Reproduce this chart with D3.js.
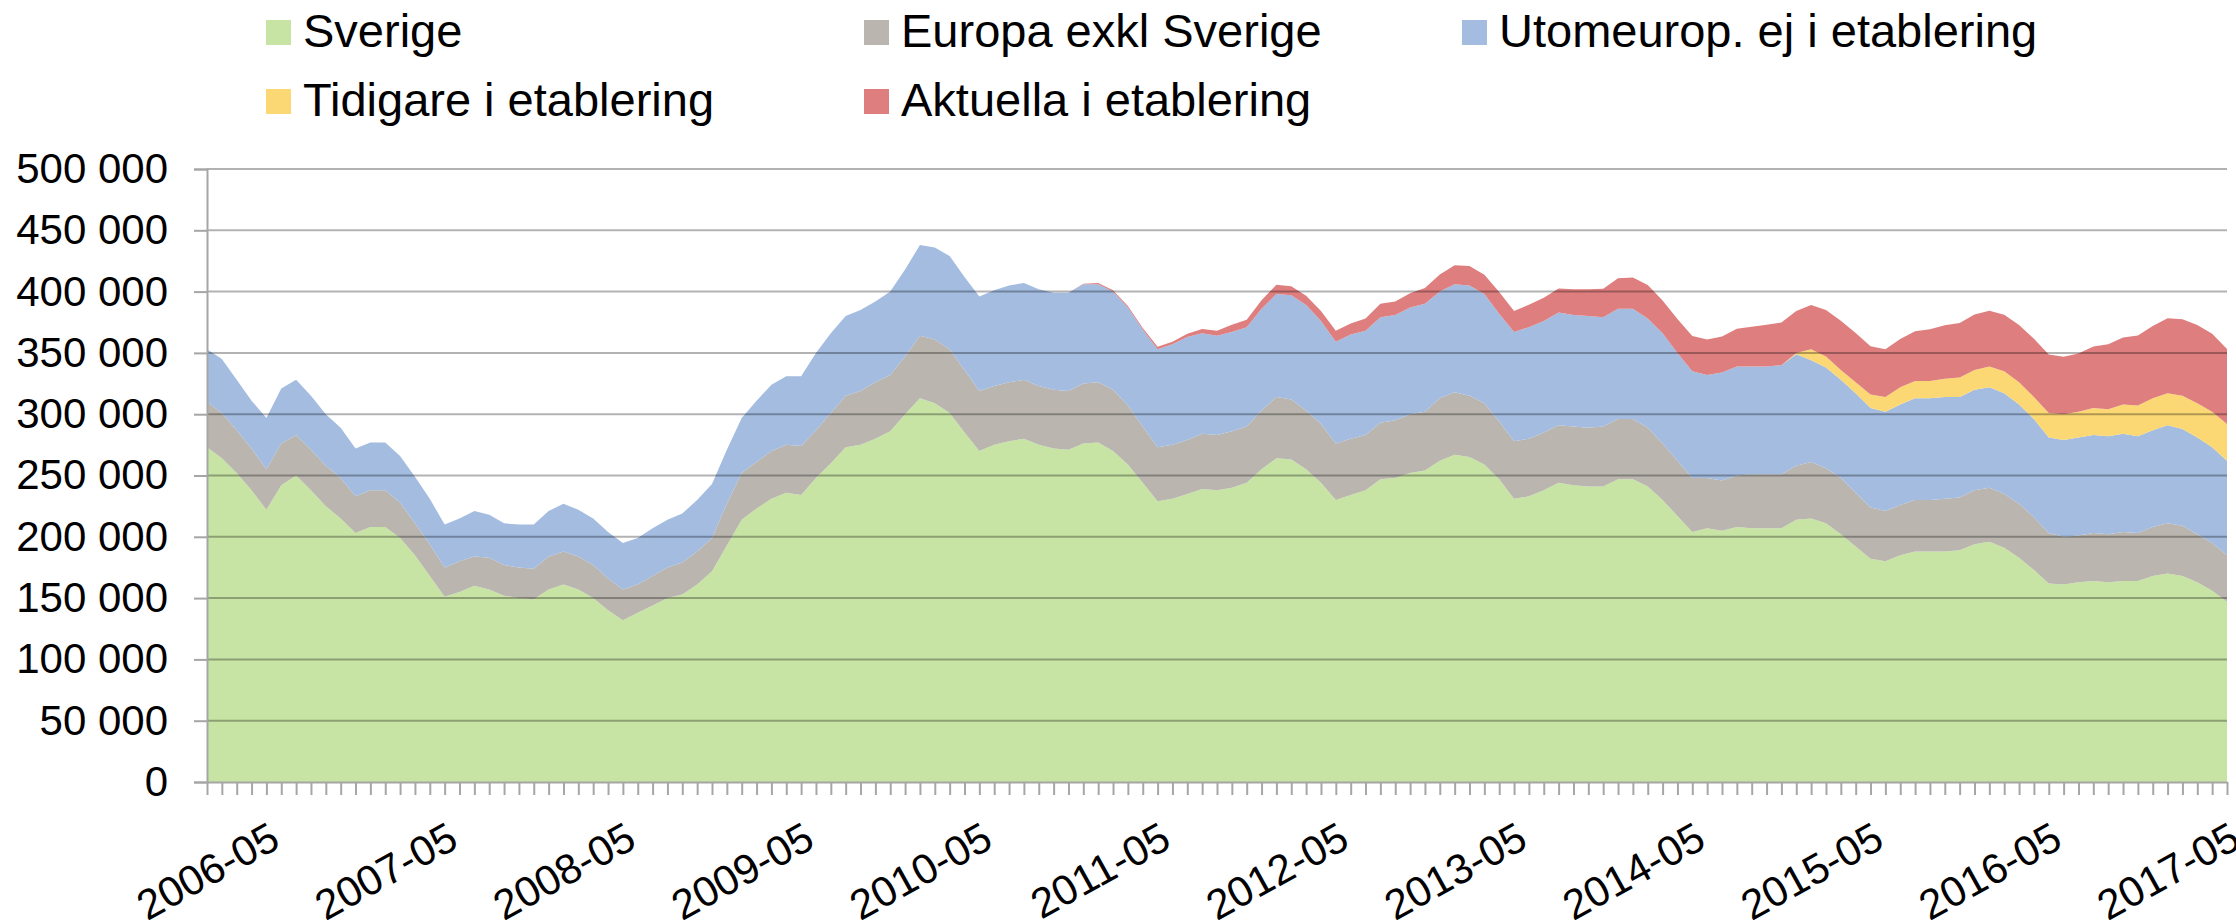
<!DOCTYPE html>
<html>
<head>
<meta charset="utf-8">
<script src="https://cdn.jsdelivr.net/npm/d3@7"></script>
<style>
  body { margin: 0; background: #fff; }
  text { font-family: "Liberation Sans", Arial, sans-serif; fill: #000; }
</style>
</head>
<body>
<div id="chart"></div>
<script>
// values in thousands of persons, monthly 2006-01 .. 2017-05
const sverige = [
  273,264,252,238,222,242,250,238,225,215,
  203,208,208,199,185,168,151,155,160,157,
  152,150,149,157,161,157,150,140,132,138,
  144,150,153,161,172,193,214,223,231,236,
  234,248,260,273,275,280,286,300,313,309,
  301,285,270,275,278,280,275,272,271,276,
  277,270,259,244,229,231,235,239,238,240,
  244,255,264,263,255,244,230,234,238,247,
  248,252,254,262,267,265,259,247,231,233,
  238,244,242,241,241,247,247,241,230,217,
  204,207,205,208,207,207,207,214,215,211,
  202,192,182,180,185,188,188,188,189,194,
  196,191,183,173,162,161,163,164,163,164,
  164,168,170,168,163,156,147
];
const europa = [
  37,37,35,34,33,34,33,33,33,33,
  30,30,30,29,26,26,24,25,24,26,
  25,25,25,27,27,27,27,26,25,23,
  24,25,26,27,27,34,38,38,39,39,
  40,39,41,42,44,46,46,47,51,52,
  52,51,49,48,48,48,48,48,48,49,
  49,50,48,46,44,44,44,45,45,46,
  46,48,50,49,48,48,46,46,45,46,
  47,48,48,51,51,50,50,47,47,47,
  47,47,48,48,49,49,49,48,46,45,
  44,41,41,42,44,44,44,44,46,45,
  46,44,42,41,41,42,42,43,43,44,
  44,44,44,43,41,39,38,39,39,40,
  39,40,41,41,39,39,38
];
const utomeurop = [
  43,44,41,39,42,45,45,44,42,41,
  39,39,39,38,38,37,35,35,37,35,
  34,35,36,37,39,38,38,38,38,38,
  39,39,40,42,44,44,45,50,54,56,
  57,63,65,65,66,66,68,71,74,75,
  76,76,77,78,79,79,79,79,80,81,
  80,80,80,79,80,82,84,82,81,81,
  81,83,84,85,86,84,83,85,85,86,
  86,87,88,87,88,90,89,88,89,91,
  91,92,91,91,89,90,90,89,90,88,
  87,84,88,89,88,88,89,91,83,82,
  80,81,81,81,82,83,83,83,82,82,
  82,82,81,80,78,79,80,80,80,80,
  79,79,80,79,79,78,77
];
const tidigare = [
  0,0,0,0,0,0,0,0,0,0, 0,0,0,0,0,0,0,0,0,0,
  0,0,0,0,0,0,0,0,0,0, 0,0,0,0,0,0,0,0,0,0,
  0,0,0,0,0,0,0,0,0,0, 0,0,0,0,0,0,0,0,0,0,
  0,0,0,0,0,0,0,0,0,0, 0,0,0,0,0,0,0,0,0,0,
  0,0,0,0,0,0,0,0,0,0, 0,0,0,0,0,0,0,0,0,0,
  0,0,0,0,0,0,0,1,9,9,
  8,9,11,12,14,14,14,15,16,16,
  17,18,18,18,20,21,21,22,22,24,
  25,26,26,27,28,29,30
];
const aktuella = [
  0,0,0,0,0,0,0,0,0,0, 0,0,0,0,0,0,0,0,0,0,
  0,0,0,0,0,0,0,0,0,0, 0,0,0,0,0,0,0,0,0,0,
  0,0,0,0,0,0,0,0,0,0, 0,0,0,0,0,0,0,0,0,0.5,
  1,1,1.3,1.4,2,2,2.7,3.5,4,6,
  6,7,7.6,7.4,7.6,8.2,9,9,10,11,
  11,11.6,13,14,15.5,15.8,15.8,17.7,17.2,18.2,
  19,19.6,21,22,23.4,24.8,25.6,27.4,26.7,27.7,
  28.8,29,29.3,30.7,32.4,34,34.8,34.2,36,38,
  40.3,40.2,39.4,38.9,39.4,40.7,42.2,43.5,44.3,45.4,
  45.3,46.2,46.7,47.6,47.6,46.8,47.5,50.3,53,54.6,
  57.1,59,61.2,62.5,63.8,63.6,61.2
];

const seriesNames = ["Sverige", "Europa exkl Sverige", "Utomeurop. ej i etablering",
                     "Tidigare i etablering", "Aktuella i etablering"];
const seriesColors = ["#C7E4A5", "#BAB6AF", "#A3BCE0", "#FCD874", "#DF7E7E"];
const seriesValues = [sverige, europa, utomeurop, tidigare, aktuella];

const months = d3.timeMonth.range(new Date(2006, 0, 1), new Date(2017, 5, 1))
  .map(d3.timeFormat("%Y-%m"));

const rows = months.map((m, i) => {
  const r = { month: m };
  seriesNames.forEach((s, k) => r[s] = seriesValues[k][i] * 1000);
  return r;
});

const W = 2236, H = 920;
const plotLeft = 207, plotRight = 2227, plotTop = 169, plotBottom = 782;

const svg = d3.select("#chart").append("svg")
  .attr("width", W)
  .attr("height", H);

const x = d3.scalePoint().domain(months).range([plotLeft, plotRight]);
const y = d3.scaleLinear().domain([0, 500000]).range([plotBottom, plotTop]);
const fmt = v => d3.format(",")(v).replace(/,/g, " ");

const stacked = d3.stack().keys(seriesNames)(rows);

const area = d3.area()
  .x(d => x(d.data.month))
  .y0(d => y(d[0]))
  .y1(d => y(d[1]));

svg.append("g")
  .selectAll("path")
  .data(stacked)
  .enter()
  .append("path")
    .attr("d", area)
    .style("fill", (d, i) => seriesColors[i]);

// gridlines show through the areas in the original
svg.append("g")
  .selectAll("line")
  .data(y.ticks(10).filter(v => v > 0))
  .enter()
  .append("line")
    .attr("x1", plotLeft)
    .attr("x2", plotRight)
    .attr("y1", d => y(d))
    .attr("y2", d => y(d))
    .style("stroke", "#000")
    .style("stroke-opacity", 0.3)
    .style("stroke-width", 2);

// y axis
const yAxis = svg.append("g")
  .attr("transform", `translate(${plotLeft},0)`)
  .call(d3.axisLeft(y).ticks(10).tickSize(13).tickPadding(26).tickFormat(fmt));
yAxis.selectAll("line").style("stroke", "#A6A6A6").style("stroke-width", 2);
yAxis.select(".domain").style("stroke", "#A6A6A6").style("stroke-width", 2);
yAxis.selectAll("text").style("font-size", "42px")
  .style("font-family", '"Liberation Sans", Arial, sans-serif').style("fill", "#000");

// x axis
const xAxis = svg.append("g")
  .attr("transform", `translate(0,${plotBottom})`)
  .call(d3.axisBottom(x).tickSize(13).tickSizeOuter(0).tickFormat(""));
xAxis.selectAll("line").style("stroke", "#A6A6A6").style("stroke-width", 2);
xAxis.select(".domain").style("stroke", "#A6A6A6").style("stroke-width", 2);

svg.append("g")
  .selectAll("text")
  .data(months.filter(m => m.endsWith("-05")))
  .enter()
  .append("text")
    .attr("transform", d => `translate(${x(d) + 1},820) rotate(-29)`)
    .attr("text-anchor", "end")
    .attr("dy", "0.72em")
    .style("font-size", "42px")
    .text(d => d);

// legend
const legendPos = [[266, 20], [864, 20], [1462, 20], [266, 89], [864, 89]];
const legend = svg.append("g")
  .selectAll("g")
  .data(seriesNames)
  .enter()
  .append("g")
    .attr("transform", (d, i) => `translate(${legendPos[i][0]},${legendPos[i][1]})`);

legend.append("rect")
  .attr("width", 25)
  .attr("height", 25)
  .style("fill", (d, i) => seriesColors[i]);

legend.append("text")
  .attr("x", 37)
  .attr("y", 27)
  .style("font-size", "47px")
  .text(d => d);
</script>
</body>
</html>
